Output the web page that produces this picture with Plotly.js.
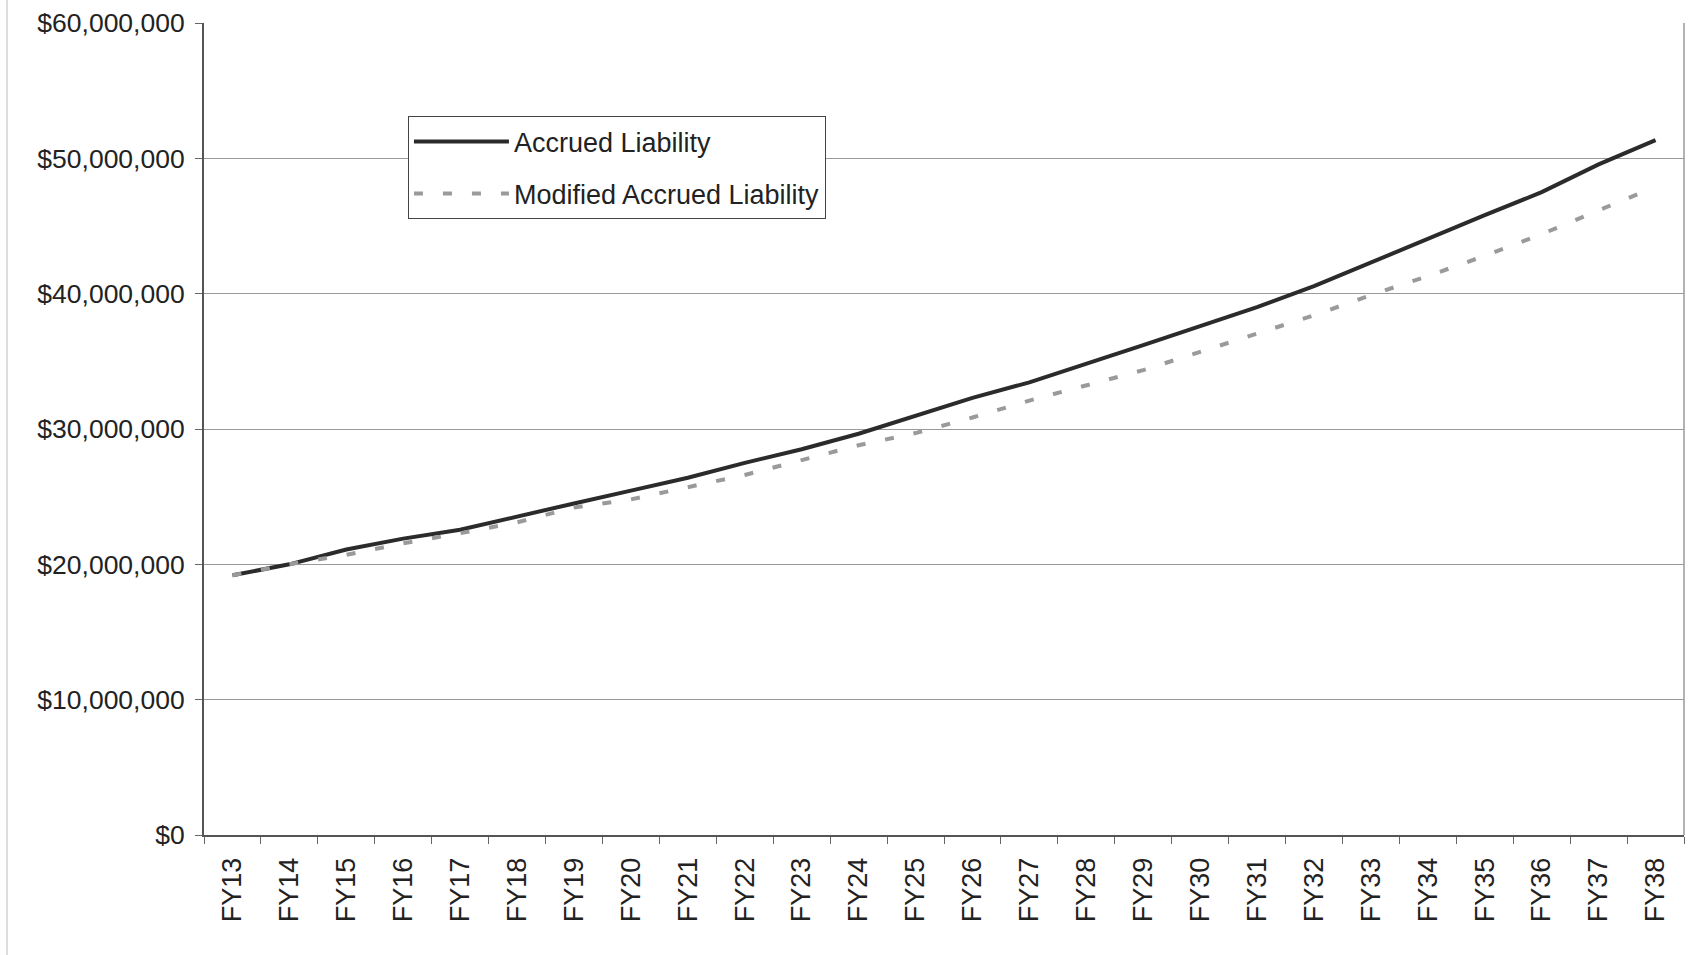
<!DOCTYPE html>
<html>
<head>
<meta charset="utf-8">
<script src="https://cdn.plot.ly/plotly-3.0.1.min.js"></script>
<style>html,body{margin:0;padding:0;background:#fff;}#chart{width:1691px;height:955px;}</style>
</head>
<body>
<div id="chart"></div>
<script>
var categories = ["FY13","FY14","FY15","FY16","FY17","FY18","FY19","FY20","FY21","FY22","FY23","FY24","FY25","FY26","FY27","FY28","FY29","FY30","FY31","FY32","FY33","FY34","FY35","FY36","FY37","FY38"];
var accruedLiability = [19190000,20000000,21100000,21900000,22550000,23550000,24500000,25450000,26400000,27500000,28500000,29650000,31000000,32300000,33450000,34800000,36200000,37600000,39000000,40550000,42300000,44100000,45800000,47500000,49550000,51350000];
var modifiedAccruedLiability = [19190000,20000000,20700000,21550000,22300000,23100000,24200000,24800000,25700000,26600000,27700000,28800000,29700000,30850000,32100000,33250000,34350000,35700000,37050000,38400000,39900000,41300000,42800000,44400000,46150000,47900000];
var yTickValues = [0,10000000,20000000,30000000,40000000,50000000,60000000];
var yTickLabels = ["$0","$10,000,000","$20,000,000","$30,000,000","$40,000,000","$50,000,000","$60,000,000"];

var font = "Liberation Sans, Arial, sans-serif";

var traces = [
  {
    x: categories, y: accruedLiability, type: "scatter", mode: "lines",
    name: "Accrued Liability", legendgroup: "a",
    line: {color: "#2b2b2b", width: 4}
  },
  {
    x: categories, y: modifiedAccruedLiability, type: "scatter", mode: "lines",
    name: "Modified Accrued Liability", legendgroup: "b",
    line: {color: "#9a9a9a", width: 4, dash: "9px,20px"}
  }
];

var layout = {
  width: 1691, height: 955,
  paper_bgcolor: "#ffffff", plot_bgcolor: "#ffffff",
  margin: {l: 204, r: 7, t: 23, b: 120, pad: 0},
  font: {family: font, size: 27, color: "#222"},
  showlegend: true,
  legend: {
    x: 0.1378, y: 0.885, xanchor: "left", yanchor: "top",
    bgcolor: "#ffffff", bordercolor: "#444", borderwidth: 1,
    font: {family: font, size: 27, color: "#222"},
    traceorder: "grouped", tracegroupgap: 14,
    itemwidth: 95
  },
  xaxis: {
    type: "category",
    range: [-0.5, 25.5],
    tickangle: -90,
    tickson: "boundaries",
    ticks: "outside", ticklen: 7, tickcolor: "#666", tickwidth: 1,
    ticklabelstandoff: 10,
    showgrid: false, zeroline: false,
    showline: true, linecolor: "#555", linewidth: 2,
    tickfont: {family: font, size: 27, color: "#222"}
  },
  yaxis: {
    range: [0, 60000000],
    tickvals: yTickValues, ticktext: yTickLabels,
    ticks: "outside", ticklen: 7, tickcolor: "#666", tickwidth: 1,
    ticklabelstandoff: 5,
    showgrid: true, gridcolor: "#9a9a9a", gridwidth: 1,
    zeroline: false,
    showline: true, linecolor: "#555", linewidth: 2,
    tickfont: {family: font, size: 26.5, color: "#222"}
  },
  shapes: [
    {type: "line", xref: "paper", yref: "paper", x0: 1, x1: 1, y0: 0, y1: 1, line: {color: "#999", width: 1.5}},
    {type: "line", xref: "paper", yref: "paper", x0: -0.1331, x1: -0.1331, y0: -0.15, y1: 1.03, line: {color: "#bbb", width: 1}}
  ]
};

Plotly.newPlot("chart", traces, layout, {displayModeBar: false, staticPlot: true});
</script>
</body>
</html>
